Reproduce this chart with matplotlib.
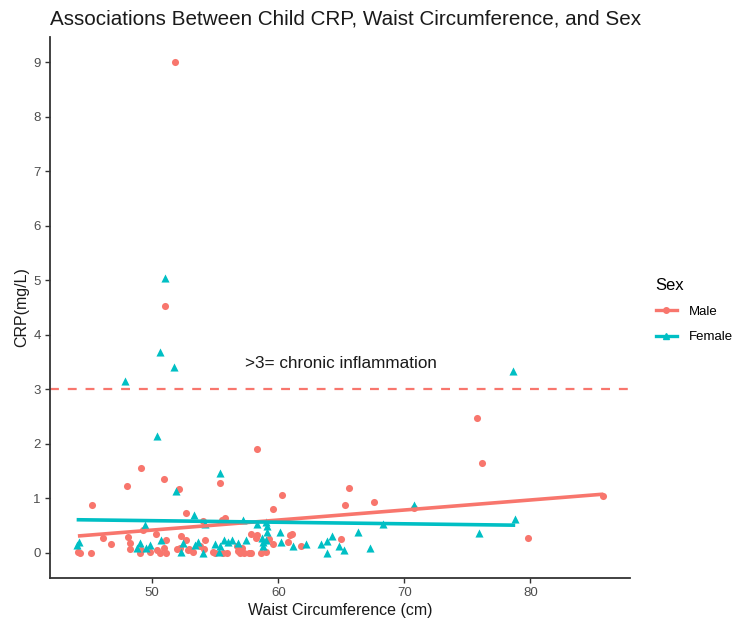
import matplotlib
matplotlib.use("Agg")
import matplotlib.pyplot as plt
from matplotlib.lines import Line2D
import numpy as np

plt.rcParams["font.family"] = ["Liberation Sans", "DejaVu Sans"]

# waist circumference (cm) and CRP (mg/L)
male_waist = [51.8, 51.0, 75.8, 76.2, 58.3, 49.1, 50.9, 48.0, 52.1, 55.4, 60.3, 65.6,
              45.2, 65.3, 67.6, 59.6, 70.8, 85.8, 52.7, 54.0, 55.5, 55.8, 49.3, 46.1,
              46.7, 48.1, 48.2, 48.2, 44.1, 44.3, 45.1, 50.3, 51.1, 52.7, 52.3, 54.2,
              49.1, 49.0, 49.8, 50.4, 50.9, 50.6, 51.1, 52.0, 52.8, 53.2, 53.8, 54.1,
              54.8, 55.0, 55.6, 55.9, 56.8, 56.7, 57.1, 57.0, 57.3, 57.7, 57.8, 58.6,
              59.0, 57.8, 58.2, 58.3, 59.3, 59.6, 60.9, 61.1, 60.8, 61.8, 65.0, 79.8,
              52.2, 52.9]
male_crp = [9.01, 4.53, 2.48, 1.65, 1.90, 1.55, 1.36, 1.23, 1.17, 1.28, 1.06, 1.19,
            0.88, 0.88, 0.93, 0.81, 0.82, 1.05, 0.74, 0.58, 0.61, 0.64, 0.42, 0.27,
            0.17, 0.29, 0.19, 0.07, 0.02, 0.00, 0.00, 0.34, 0.24, 0.24, 0.31, 0.24,
            0.06, 0.00, 0.02, 0.06, 0.09, 0.00, 0.00, 0.07, 0.06, 0.02, 0.12, 0.07,
            0.02, 0.00, 0.00, 0.00, 0.03, 0.12, 0.09, 0.00, 0.00, 0.00, 0.00, 0.00,
            0.02, 0.35, 0.27, 0.33, 0.25, 0.16, 0.33, 0.35, 0.20, 0.12, 0.25, 0.27,
            0.10, 0.07]

female_waist = [51.0, 50.6, 51.7, 47.8, 78.6, 50.4, 55.4, 51.9, 53.3, 49.4, 54.2, 70.8,
                78.8, 75.9, 68.3, 66.3, 57.2, 58.3, 59.0, 59.1, 59.1, 60.1, 58.7, 58.8,
                59.0, 58.8, 60.2, 61.2, 62.2, 63.4, 63.9, 64.3, 64.8, 65.2, 63.9, 67.3,
                56.3, 56.8, 57.4, 56.0, 55.7, 55.0, 55.4, 55.3, 53.6, 52.4, 52.3, 50.7,
                49.8, 49.0, 48.8, 44.0, 44.2, 54.0, 53.4, 49.5]
female_crp = [5.04, 3.68, 3.42, 3.16, 3.33, 2.14, 1.47, 1.14, 0.69, 0.51, 0.53, 0.88,
              0.62, 0.37, 0.54, 0.38, 0.61, 0.54, 0.57, 0.50, 0.39, 0.39, 0.27, 0.21,
              0.24, 0.12, 0.21, 0.12, 0.16, 0.16, 0.22, 0.32, 0.12, 0.06, 0.00, 0.09,
              0.24, 0.18, 0.24, 0.21, 0.24, 0.17, 0.12, 0.01, 0.21, 0.19, 0.02, 0.24,
              0.15, 0.19, 0.10, 0.15, 0.21, 0.00, 0.15, 0.09]

# linear fits (intercept, slope) as drawn in the reference
male_fit = (-0.50, 0.0184)
female_fit = (0.736, -0.00287)

threshold = 3
male_col = "#F8766D"
female_col = "#00BFC4"

fig = plt.figure(figsize=(7.4, 6.21), dpi=100)
ax = fig.add_axes([0.068, 0.070, 0.783, 0.870])

ax.scatter(male_waist, male_crp, s=26, color=male_col, marker="o", linewidths=0, zorder=3)
ax.scatter(female_waist, female_crp, s=34, color=female_col, marker="^", linewidths=0, zorder=3)

for xs, fit, col in [(male_waist, male_fit, male_col), (female_waist, female_fit, female_col)]:
    lx = np.array([min(xs), max(xs)])
    ax.plot(lx, fit[0] + fit[1] * lx, color=col, lw=2.6, zorder=4, solid_capstyle="butt")

ax.axhline(threshold, color=male_col, lw=1.6, ls=(0, (4, 4)), zorder=2)
ax.text(65, 3.47, ">3= chronic inflammation", fontsize=12.3, ha="center", va="center",
        color="#1a1a1a")

allx = male_waist + female_waist
ally = male_crp + female_crp
xr = max(allx) - min(allx)
yr = max(ally) - min(ally)
ax.set_xlim(min(allx) - 0.05 * xr, max(allx) + 0.05 * xr)
ax.set_ylim(min(ally) - 0.05 * yr, max(ally) + 0.05 * yr)
ax.set_xticks([50, 60, 70, 80])
ax.set_yticks(range(0, 10))

for s in ["top", "right"]:
    ax.spines[s].set_visible(False)
for s in ["left", "bottom"]:
    ax.spines[s].set_linewidth(1.3)
    ax.spines[s].set_color("#333333")
ax.tick_params(length=3.5, width=1, colors="#333333", labelcolor="#4D4D4D", labelsize=9.5)

ax.set_xlabel("Waist Circumference (cm)", fontsize=11.5, color="#1a1a1a", labelpad=3)
ax.set_ylabel("CRP(mg/L)", fontsize=11.5, color="#1a1a1a", labelpad=3)
fig.text(0.068, 0.970, "Associations Between Child CRP, Waist Circumference, and Sex",
         fontsize=14.9, ha="left", va="center", color="#1a1a1a")

handles = [
    Line2D([], [], color=male_col, lw=2.4, marker="o", markersize=4),
    Line2D([], [], color=female_col, lw=2.4, marker="^", markersize=4.5),
]
leg = fig.legend(handles, ["Male", "Female"], title="Sex", loc="center left",
                 bbox_to_anchor=(0.870, 0.50), frameon=False, fontsize=9.5,
                 title_fontsize=12, handlelength=1.6, handletextpad=0.9,
                 labelspacing=1.0)
leg._legend_box.align = "left"

fig.savefig("out.png", dpi=100)
